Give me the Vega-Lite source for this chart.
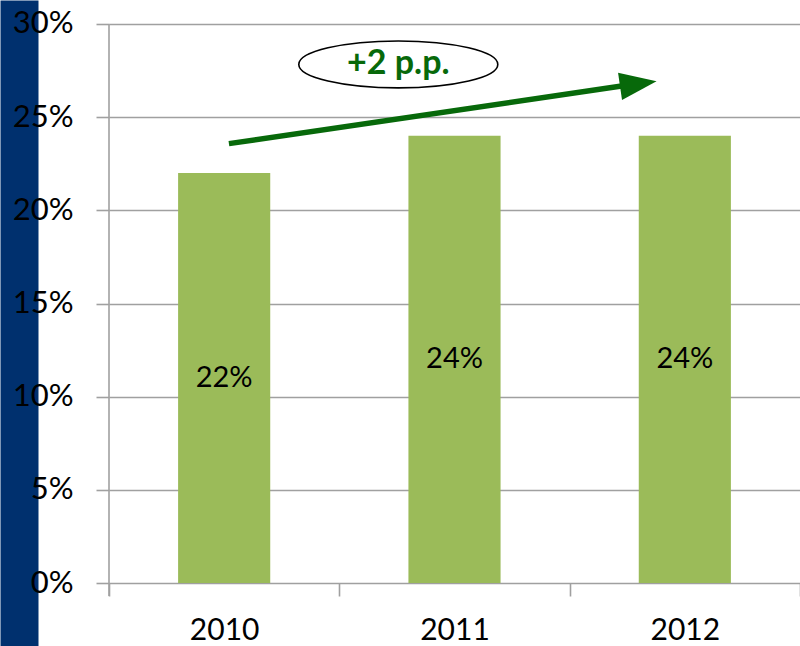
{
  "$schema": "https://vega.github.io/schema/vega-lite/v6.json",
  "width": 691,
  "height": 646,
  "autosize": {"type": "none"},
  "padding": {"left": 109, "top": 0, "right": 0, "bottom": 0},
  "background": "white",
  "config": {"view": {"stroke": null}, "font": "Lato"},
  "datasets": {
    "bars": [
      {"year": "2010", "share": 0.22},
      {"year": "2011", "share": 0.24},
      {"year": "2012", "share": 0.24}
    ],
    "arrow": [
      {"pos": 0.5206, "share": 0.2358},
      {"pos": 2.2256, "share": 0.2667}
    ],
    "head": [{"pos": 2.298, "share": 0.2679}],
    "note": [{"pos": 1.256, "share": 0.2783, "label": "+2 p.p."}],
    "frame": [{"pos": 0, "top": 0.30, "bottom": -0.007}]
  },
  "resolve": {"scale": {"x": "independent"}, "axis": {"x": "independent", "y": "independent"}},
  "layer": [
    {
      "data": {"name": "bars"},
      "mark": {"type": "bar", "color": "#9BBB59"},
      "encoding": {
        "x": {
          "field": "year", "type": "nominal",
          "scale": {"paddingInner": 0.6, "paddingOuter": 0.3},
          "axis": null
        },
        "y": {
          "field": "share", "type": "quantitative",
          "scale": {"domain": [-0.03381, 0.31288], "nice": false, "zero": false},
          "axis": {
            "orient": "left", "offset": 90, "domain": true, "domainColor": "#00306E",
            "domainWidth": 38, "domainCap": "butt", "ticks": false, "labels": false,
            "grid": false, "title": null
          }
        }
      }
    },
    {
      "data": {"name": "bars"},
      "mark": {"type": "text", "font": "Lato", "fontSize": 29, "color": "black", "baseline": "middle"},
      "encoding": {
        "x": {
          "field": "year", "type": "nominal",
          "scale": {"paddingInner": 0, "paddingOuter": 0},
          "axis": {
            "orient": "bottom", "offset": -63, "domain": false, "tickBand": "extent",
            "tickSize": 13, "tickColor": "#A0A0A0", "tickWidth": 1.6,
            "labelAngle": 0, "labelFont": "Lato", "labelFontSize": 30, "labelColor": "black",
            "labelPadding": 43, "labelBaseline": "alphabetic", "title": null
          }
        },
        "y": {
          "field": "share", "type": "quantitative", "stack": "zero", "bandPosition": 0.5,
          "scale": {"domain": [-0.03381, 0.31288], "nice": false, "zero": false},
          "axis": {
            "orient": "left", "values": [0, 0.05, 0.1, 0.15, 0.2, 0.25, 0.3], "format": ".0%",
            "domain": false, "tickSize": 13, "tickColor": "#A0A0A0", "tickWidth": 1.6,
            "grid": true, "gridColor": "#A0A0A0", "gridWidth": 1.6,
            "labelFont": "Lato", "labelFontSize": 31, "labelColor": "black",
            "labelPadding": 23, "title": null
          }
        },
        "text": {"field": "share", "type": "quantitative", "format": ".0%"}
      }
    },
    {
      "data": {"name": "frame"},
      "mark": {"type": "rule", "color": "#A0A0A0", "strokeWidth": 1.6},
      "encoding": {
        "x": {"field": "pos", "type": "quantitative", "scale": {"domain": [0, 3], "nice": false, "zero": false}, "axis": null},
        "y": {"field": "top", "type": "quantitative", "scale": {"domain": [-0.03381, 0.31288], "nice": false, "zero": false}, "axis": null},
        "y2": {"field": "bottom"}
      }
    },
    {
      "data": {"name": "arrow"},
      "mark": {"type": "line", "color": "#07690A", "strokeWidth": 5.5, "strokeCap": "butt"},
      "encoding": {
        "x": {"field": "pos", "type": "quantitative", "scale": {"domain": [0, 3], "nice": false, "zero": false}, "axis": null},
        "y": {"field": "share", "type": "quantitative", "scale": {"domain": [-0.03381, 0.31288], "nice": false, "zero": false}, "axis": null}
      }
    },
    {
      "data": {"name": "head"},
      "mark": {"type": "point", "shape": "M-1,-0.745L1,0L-1,0.745Z", "filled": true, "color": "#07690A", "opacity": 1, "size": 1362, "angle": -8.3},
      "encoding": {
        "x": {"field": "pos", "type": "quantitative", "scale": {"domain": [0, 3], "nice": false, "zero": false}, "axis": null},
        "y": {"field": "share", "type": "quantitative", "scale": {"domain": [-0.03381, 0.31288], "nice": false, "zero": false}, "axis": null}
      }
    },
    {
      "data": {"name": "note"},
      "mark": {"type": "point", "shape": "M-1,0A1,0.236,0,1,1,1,0A1,0.236,0,1,1,-1,0Z", "filled": false, "stroke": "black", "strokeWidth": 1.6, "fill": "white", "opacity": 1, "size": 39601},
      "encoding": {
        "x": {"field": "pos", "type": "quantitative", "scale": {"domain": [0, 3], "nice": false, "zero": false}, "axis": null},
        "y": {"field": "share", "type": "quantitative", "scale": {"domain": [-0.03381, 0.31288], "nice": false, "zero": false}, "axis": null}
      }
    },
    {
      "data": {"name": "note"},
      "mark": {"type": "text", "font": "Lato", "fontSize": 34, "fontWeight": "bold", "letterSpacing": 2, "color": "#07690A", "align": "center", "baseline": "middle"},
      "encoding": {
        "x": {"field": "pos", "type": "quantitative", "scale": {"domain": [0, 3], "nice": false, "zero": false}, "axis": null},
        "y": {"field": "share", "type": "quantitative", "scale": {"domain": [-0.03381, 0.31288], "nice": false, "zero": false}, "axis": null},
        "text": {"field": "label"}
      }
    }
  ]
}
